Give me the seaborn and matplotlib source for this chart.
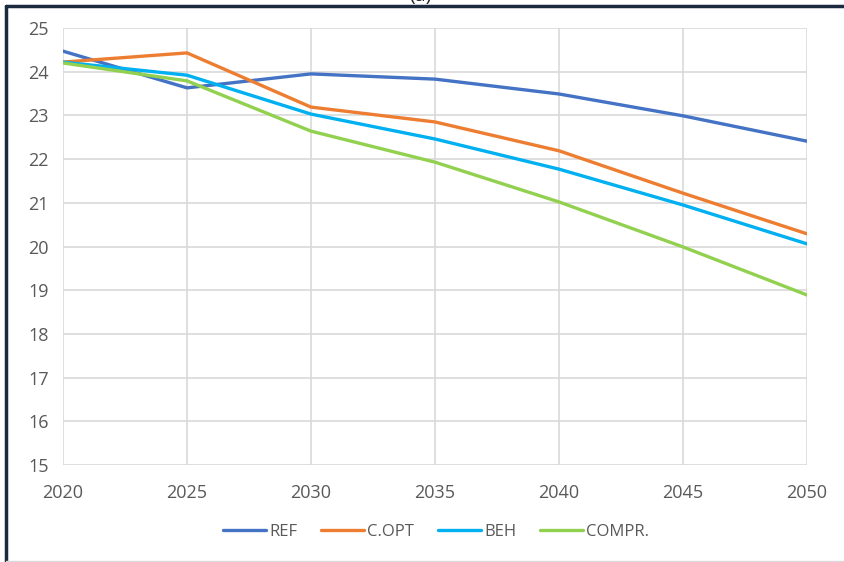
import pandas as pd
import seaborn as sns
from matplotlib import pyplot as plt
from matplotlib.lines import Line2D

years = [2020, 2025, 2030, 2035, 2040, 2045, 2050]
ref = [24.47, 23.63, 23.95, 23.83, 23.49, 22.99, 22.41]
c_opt = [24.22, 24.43, 23.19, 22.85, 22.19, 21.22, 20.29]
beh = [24.22, 23.92, 23.03, 22.46, 21.77, 20.95, 20.06]
compr = [24.20, 23.79, 22.64, 21.93, 21.02, 19.99, 18.89]

series = ["REF", "C.OPT", "BEH", "COMPR."]
colors = ["#4472C4", "#ED7D31", "#00B0F0", "#92D050"]

df = pd.DataFrame(
    {
        "year": years * 4,
        "value": ref + c_opt + beh + compr,
        "scenario": [s for s in series for _ in years],
    }
)

sns.set_style("white")
plt.rcParams["font.family"] = ["Liberation Sans Narrow", "Open Sans", "DejaVu Sans"]

fig = plt.figure(figsize=(8.44, 5.62), dpi=100)
ax = fig.add_axes([63 / 844, 1 - 465 / 562, (807 - 63) / 844, (465 - 28) / 562])

sns.lineplot(
    data=df,
    x="year",
    y="value",
    hue="scenario",
    hue_order=series,
    palette=colors,
    linewidth=2.4,
    legend=False,
    ax=ax,
)

ax.set_xlim(2020, 2050)
ax.set_ylim(15, 25)
ax.set_xticks(years)
ax.set_yticks(range(15, 26))
ax.grid(True, color="#D9D9D9", linewidth=1.2)
ax.set_axisbelow(True)
for s in ax.spines.values():
    s.set_visible(False)
ax.tick_params(axis="both", length=0, labelsize=13, colors="#595959")
ax.tick_params(axis="x", pad=14)
ax.tick_params(axis="y", pad=10)
ax.set_xlabel("")
ax.set_ylabel("")

handles = [Line2D([0], [0], color=c, linewidth=2.4) for c in colors]
fig.legend(
    handles,
    series,
    loc="center",
    bbox_to_anchor=(436 / 844, 1 - 532 / 562),
    ncol=4,
    frameon=False,
    fontsize=12,
    handlelength=2.6,
    handletextpad=0.2,
    columnspacing=1.4,
    labelcolor="#595959",
)

# outer frame of the cropped figure
fig.add_artist(Line2D([6 / 844, 1], [1 - 6 / 562, 1 - 6 / 562], color="#1B2A3E", linewidth=2.5))
fig.add_artist(Line2D([6 / 844, 6 / 844], [0, 1 - 6 / 562], color="#1B2A3E", linewidth=2.5))
fig.add_artist(Line2D([6 / 844, 1], [1 / 562, 1 / 562], color="#D9D9D9", linewidth=1))
fig.text(420 / 844, 1 + 4 / 562, "(a)", ha="center", va="center", fontsize=14, color="#222222")

fig.savefig("out.png", dpi=100)
